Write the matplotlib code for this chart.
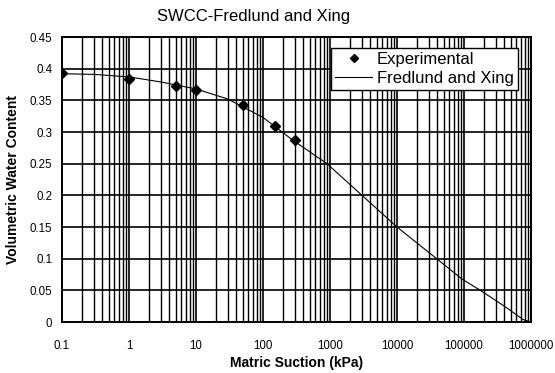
import matplotlib.pyplot as plt
from matplotlib.ticker import LogLocator, FixedLocator, FixedFormatter

plt.rcParams['font.family'] = ['Liberation Sans', 'DejaVu Sans']

# measured points
exp_suction = [0.1, 1, 5, 10, 50, 150, 300]
exp_theta = [0.393, 0.384, 0.373, 0.366, 0.342, 0.309, 0.287]

# fitted curve
fit_suction = [0.1, 0.3, 1, 3, 10, 30, 100, 280, 900, 3000, 10000,
               39000, 93000, 175000, 400000, 760000, 1000000]
fit_theta = [0.392, 0.391, 0.387, 0.379, 0.368, 0.352, 0.323, 0.287, 0.250,
             0.200, 0.150, 0.100, 0.068, 0.050, 0.025, 0.004, 0.0]

x_ticks = [0.1, 1, 10, 100, 1000, 10000, 100000, 1000000]
x_labels = ['0.1', '1', '10', '100', '1000', '10000', '100000', '1000000']
y_ticks = [0, 0.05, 0.1, 0.15, 0.2, 0.25, 0.3, 0.35, 0.4, 0.45]
y_labels = ['0', '0.05', '0.1', '0.15', '0.2', '0.25', '0.3', '0.35', '0.4', '0.45']

fig = plt.figure(figsize=(5.55, 3.73), dpi=100)
ax = fig.add_axes([0.1117, 0.1367, 0.8451, 0.7641])

ax.plot(fit_suction, fit_theta, color='black', lw=0.8, label='Fredlund and Xing', zorder=3)
ax.plot(exp_suction, exp_theta, linestyle='none', marker='D', ms=5.5,
        color='black', label='Experimental', zorder=4)

ax.set_xscale('log')
ax.set_xlim(0.1, 1000000)
ax.set_ylim(0, 0.45)
ax.xaxis.set_major_locator(FixedLocator(x_ticks))
ax.xaxis.set_major_formatter(FixedFormatter(x_labels))
ax.xaxis.set_minor_locator(LogLocator(base=10, subs=range(2, 10), numticks=20))
ax.yaxis.set_major_locator(FixedLocator(y_ticks))
ax.yaxis.set_major_formatter(FixedFormatter(y_labels))

ax.grid(True, which='major', color='black', lw=1.2)
ax.grid(True, which='minor', axis='x', color='black', lw=1.0)
ax.tick_params(which='both', length=0, labelsize=8.3, pad=7)
ax.tick_params(axis='x', pad=13)
for s in ax.spines.values():
    s.set_linewidth(1.4)

ax.set_xlabel('Matric Suction (kPa)', fontsize=10, fontweight='bold', labelpad=3)
ax.set_ylabel('Volumetric Water Content', fontsize=10, fontweight='bold', labelpad=7)
fig.text(0.456, 0.955, 'SWCC-Fredlund and Xing', ha='center', va='center', fontsize=12)

h, l = ax.get_legend_handles_labels()
leg = ax.legend(h[::-1], l[::-1], loc='upper right', bbox_to_anchor=(0.972, 0.961),
                fontsize=12, frameon=True, fancybox=False, framealpha=1,
                edgecolor='black', borderpad=0.25, handlelength=2.2,
                handletextpad=0.3, labelspacing=0.2, borderaxespad=0,
                markerscale=0.8)
leg.get_frame().set_linewidth(1.0)

fig.savefig('out.png', dpi=100)
